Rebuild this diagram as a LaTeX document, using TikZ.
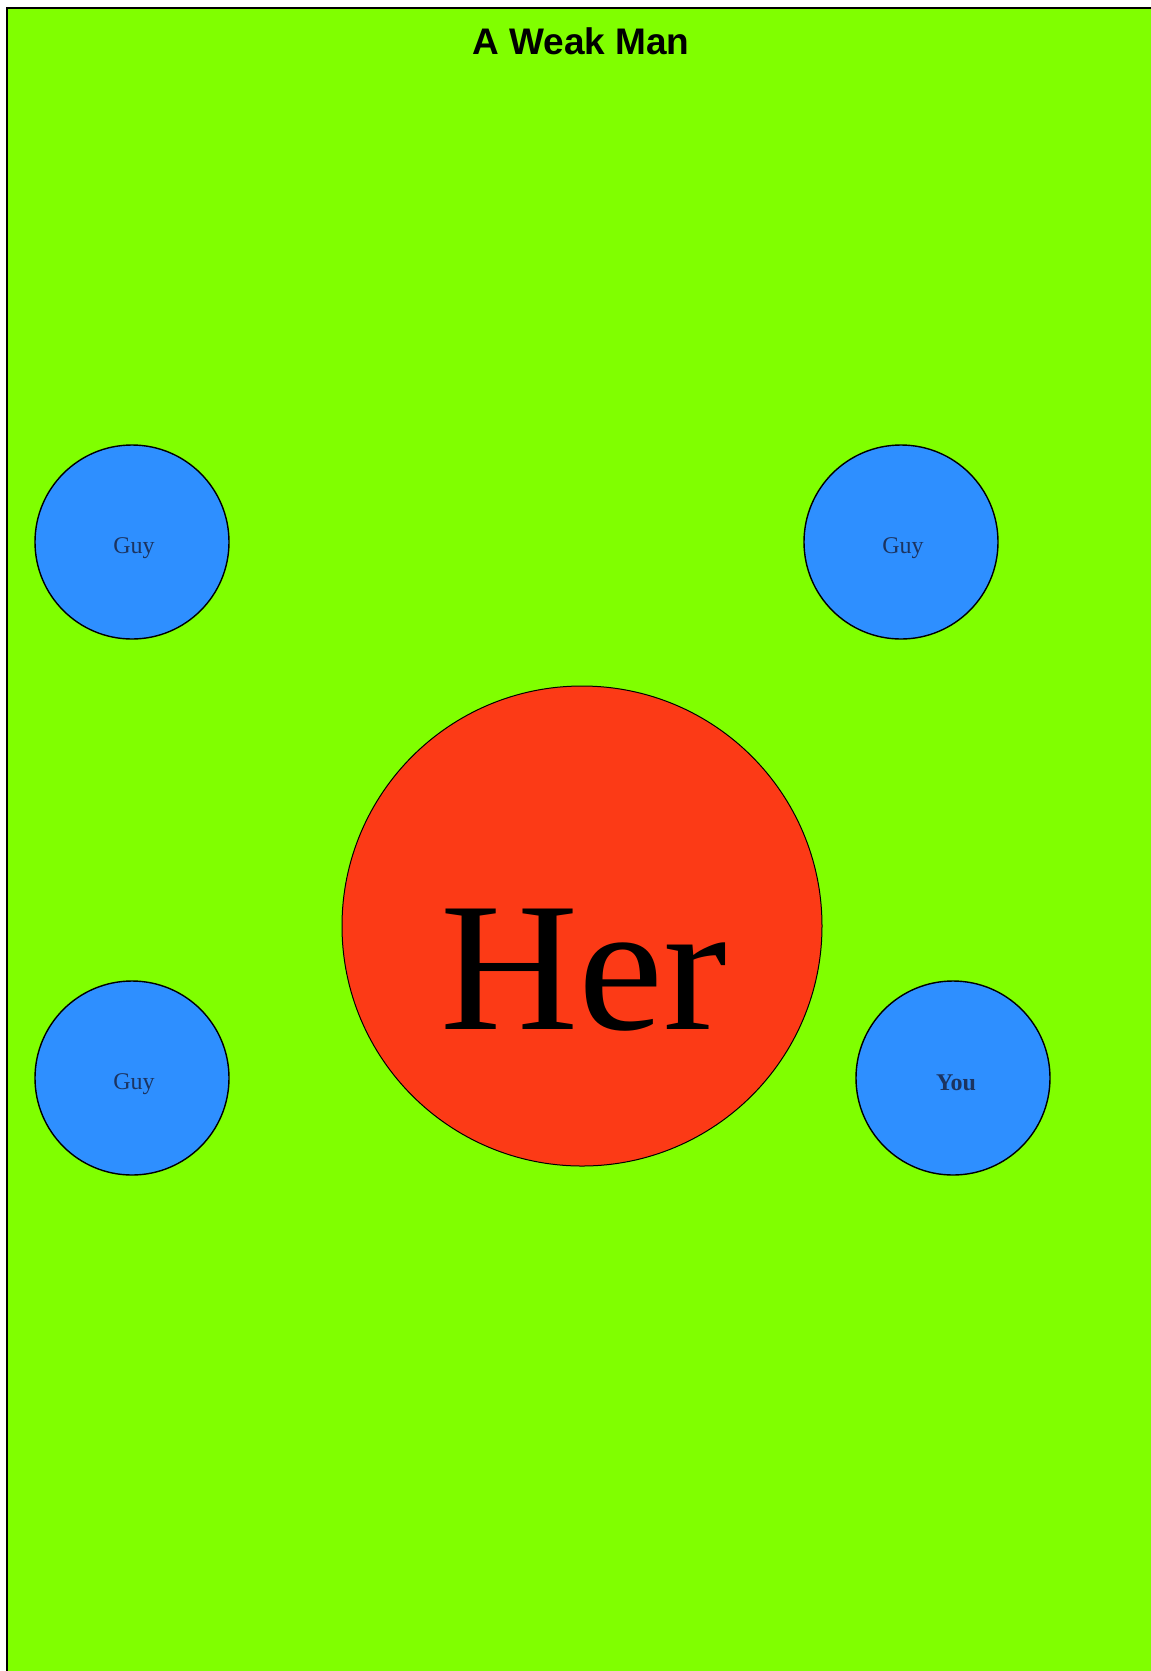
\documentclass[tikz,border=0pt]{standalone}
\usepackage{fontspec}
\setmainfont{Liberation Serif}
\newfontfamily\titlefont{Liberation Sans}
\definecolor{fieldgreen}{RGB}{128,255,0}
\definecolor{guyblue}{RGB}{46,143,255}
\definecolor{herred}{RGB}{252,58,22}
\definecolor{labelink}{RGB}{28,52,96}
\begin{document}
\begin{tikzpicture}[x=1pt,y=-1pt,
  person/.style={circle,draw=black,line width=1.4pt,fill=guyblue,inner sep=0pt,minimum size=194pt},
  her/.style={circle,draw=black,line width=1pt,fill=herred,inner sep=0pt,minimum size=480pt},
  smalllabel/.style={anchor=base,inner sep=0pt,text=labelink,font=\fontsize{24}{28}\selectfont}]
\useasboundingbox (0,0) rectangle (1151,1671);
\fill[white] (0,0) rectangle (1151,1671);
\fill[fieldgreen] (7,8) rectangle (1151,1671);
\draw[line width=2.3pt] (7,1671) -- (7,7.8) -- (1151,7.8);
\node[anchor=base,inner sep=0pt,font=\titlefont\bfseries\fontsize{37}{40}\selectfont] (title) at (581,54) {A Weak Man};
\node[her] (her) at (582,926) {};
\node[anchor=base,inner sep=0pt,font=\fontsize{184}{190}\selectfont,xscale=1.04] (hertext) at (584,1029) {Her};
\node[person] (g1) at (132,542) {};
\node[person] (g2) at (901,542) {};
\node[person] (g3) at (132,1078) {};
\node[person] (you) at (953,1078) {};
\node[smalllabel] (g1t) at (134,553) {Guy};
\node[smalllabel] (g2t) at (903,553) {Guy};
\node[smalllabel] (g3t) at (134,1089) {Guy};
\node[smalllabel,font=\bfseries\fontsize{24}{28}\selectfont] (yout) at (956,1090) {You};
\end{tikzpicture}
\end{document}
